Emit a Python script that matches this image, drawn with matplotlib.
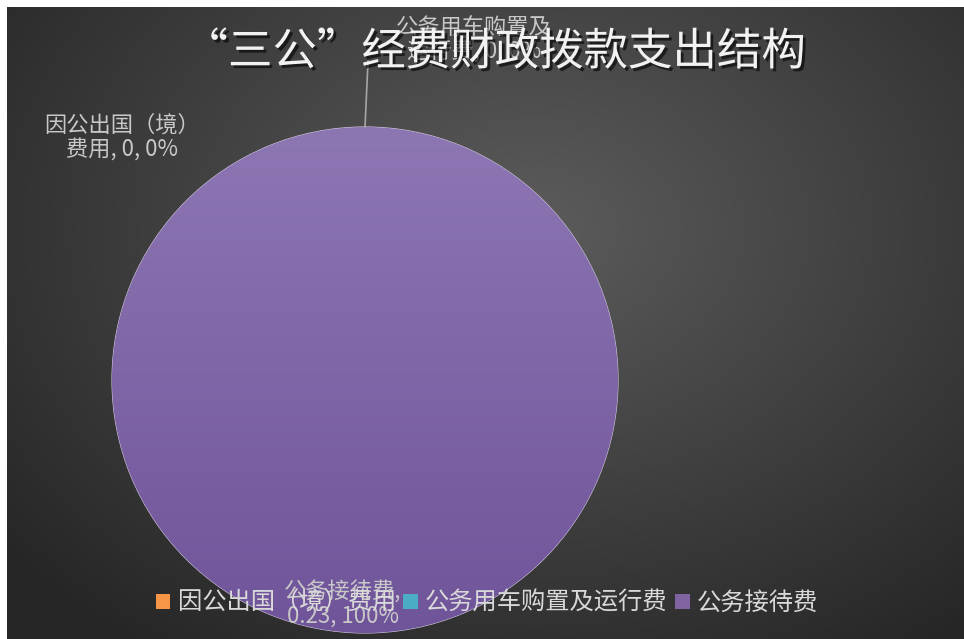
import numpy as np
import matplotlib
matplotlib.use("Agg")
import matplotlib.pyplot as plt
import matplotlib.patheffects as pe
from matplotlib.patches import Rectangle

plt.rcParams['font.family'] = ['Noto Sans CJK SC', 'DejaVu Sans']

# data
categories = ["因公出国（境）费用", "公务用车购置及运行费", "公务接待费"]
values = [0, 0, 0.23]
colors = ["#F79646", "#4BACC6", "#8064A2"]
title = "“三公”经费财政拨款支出结构"

W, H = 964, 639
fig = plt.figure(figsize=(W / 100, H / 100), dpi=100)
fig.patch.set_facecolor("white")

# background with radial gradient
bg = fig.add_axes([7 / W, 0, 1 - 7 / W, 1 - 7 / H])
bg.set_axis_off()
yy, xx = np.mgrid[0:1:300j, 0:1:450j]
dist = np.sqrt(((xx - 0.55) / 0.75) ** 2 + ((yy - 0.35) / 0.85) ** 2)
shade = np.clip(0.36 - 0.22 * dist, 0.15, 0.36)
bg.imshow(np.dstack([shade] * 3), extent=(0, 1, 0, 1), aspect="auto", origin="upper")
bg.set_xlim(0, 1)
bg.set_ylim(0, 1)

# pie axes: centre (365,380) px, radius 253 px
r = 253
cx, cy = 365, 380
ax = fig.add_axes([(cx - r) / W, (H - cy - r) / H, 2 * r / W, 2 * r / H])
ax.set_axis_off()
wedges, _ = ax.pie(values, colors=colors, startangle=90, counterclock=False,
                   radius=1, wedgeprops=dict(edgecolor="#D0C8DC", linewidth=0.8))
ax.set_xlim(-1, 1)
ax.set_ylim(-1, 1)
ax.set_aspect("equal")

# vertical gradient on the purple slice
grad = np.linspace(0, 1, 256)[:, None]
top = np.array([0x8D, 0x77, 0xB3]) / 255
bot = np.array([0x70, 0x54, 0x9A]) / 255
img = top[None, None, :] * (1 - grad[:, :, None]) + bot[None, None, :] * grad[:, :, None]
im = ax.imshow(np.repeat(img, 2, axis=1), extent=(-1, 1, -1, 1), origin="upper",
               aspect="auto", zorder=2)
im.set_clip_path(wedges[2])

# leader line for the car label
ax.plot([0, 0.012], [1.0, 1.26], color="#A6A6A6", lw=1.2, clip_on=False, zorder=3)

label_color = "#C8C8C8"
fig.text(122 / W, 1 - 137 / H, "因公出国（境）\n费用, 0, 0%", ha="center", va="center",
         fontsize=16, color=label_color, linespacing=1.05)
fig.text(474 / W, 1 - 40 / H, "公务用车购置及\n运行费, 0, 0%", ha="center", va="center",
         fontsize=16, color=label_color, linespacing=1.05)
fig.text(343 / W, 1 - 604 / H, "公务接待费,\n0.23, 100%", ha="center", va="center",
         fontsize=16, color=label_color, linespacing=1.05)

# title
fig.text(495 / W, 1 - 52 / H, title, ha="center", va="center", fontsize=32,
         color="#F2F2F2",
         path_effects=[pe.withSimplePatchShadow(offset=(2, -2), shadow_rgbFace="black", alpha=0.6)])

# legend
handles = [Rectangle((0, 0), 1, 1, facecolor=c) for c in colors]
fig.legend(handles, categories, loc="center", bbox_to_anchor=(487 / W, 1 - 603 / H),
           ncol=3, frameon=False, fontsize=17.5, labelcolor="#D9D9D9",
           handlelength=0.6, handleheight=0.6, handletextpad=0.3, columnspacing=0.3)

fig.savefig("out.png", dpi=100)
